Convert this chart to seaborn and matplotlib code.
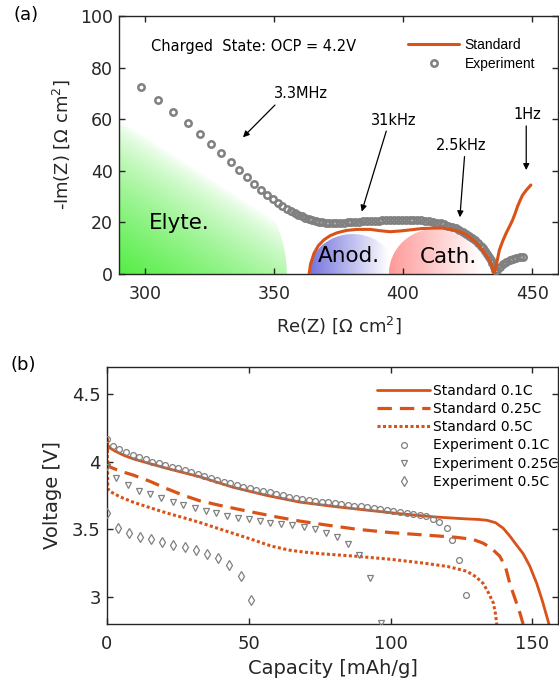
import numpy as np
import matplotlib
matplotlib.use("Agg")
import matplotlib.pyplot as plt
from matplotlib.patches import Ellipse
from matplotlib.lines import Line2D
from matplotlib.ticker import FuncFormatter
import seaborn as sns

# ---------------- (a) impedance spectrum, charged state ----------------
eis_exp_re = [298.5, 305.0, 311.0, 316.8, 321.3, 325.5, 329.5, 333.2, 336.4, 339.5,
              342.3, 345.0, 347.3, 349.5, 351.5, 353.3, 355.0, 356.6, 358.1, 359.5,
              360.9, 362.2, 363.5, 364.8, 366.1, 367.4, 368.7, 370.0, 371.4, 372.8,
              374.2, 375.6, 377.0, 378.5, 380.0, 381.5, 383.0, 384.5, 386.0, 387.5,
              389.0, 390.5, 392.0, 393.5, 395.0, 396.5, 398.0, 399.5, 401.0, 402.5,
              404.0, 405.5, 407.0, 408.5, 410.0, 411.5, 413.0, 414.5, 416.0, 417.5,
              419.0, 420.4, 421.8, 423.1, 424.4, 425.6, 426.8, 427.9, 429.0, 430.0,
              430.9, 431.8, 432.6, 433.3, 434.0, 434.6, 435.1, 435.6, 436.5, 437.6,
              438.8, 440.0, 441.3, 442.6, 443.9, 445.1, 446.3]
eis_exp_im = [72.5, 67.3, 62.9, 58.6, 54.3, 50.3, 46.8, 43.4, 40.3, 37.7,
              34.9, 32.6, 30.7, 29.0, 27.4, 26.2, 25.2, 24.3, 23.6, 23.0,
              22.4, 21.9, 21.4, 21.0, 20.6, 20.3, 20.0, 19.8, 19.6, 19.6,
              19.7, 19.8, 19.9, 20.0, 20.1, 20.2, 20.3, 20.4, 20.5, 20.5,
              20.6, 20.7, 20.8, 20.8, 20.9, 20.9, 21.0, 21.0, 21.0, 21.0,
              21.0, 20.9, 20.8, 20.6, 20.4, 20.2, 19.9, 19.6, 19.2, 18.8,
              18.3, 17.7, 17.1, 16.4, 15.6, 14.8, 13.9, 13.0, 12.0, 11.0,
              9.9, 8.8, 7.7, 6.5, 5.3, 4.1, 2.9, 1.6, 1.5, 2.8,
              3.8, 4.6, 5.3, 5.8, 6.2, 6.5, 6.7]

eis_std_re = [363.6, 364.2, 365.5, 367.2, 369.3, 371.8, 374.5, 378.0, 382.2, 387.3,
              391.0, 395.0, 399.0, 402.7, 407.0, 411.7, 415.0, 418.0, 421.5, 424.5,
              427.2, 429.6, 431.7, 433.5, 434.4, 435.0, 435.3, 436.2, 437.3, 438.6,
              439.9, 441.2, 442.4, 443.4, 444.3, 445.3, 446.3, 447.8, 449.5]
eis_std_im = [0.0, 4.0, 8.0, 11.0, 13.2, 14.9, 16.0, 16.9, 17.3, 17.3,
              16.8, 16.4, 16.7, 17.1, 17.6, 17.8, 17.8, 17.4, 16.6, 15.2,
              13.2, 10.8, 8.0, 5.2, 3.0, 0.8, 0.0, 4.0, 9.3, 12.8,
              15.8, 18.4, 20.9, 23.5, 26.1, 28.5, 30.6, 32.6, 34.5]

# frequency markers: (label, text position, arrow tail, arrow head)
freq_labels = ["3.3MHz", "31kHz", "2.5kHz", "1Hz"]
freq_text_xy = [(360.5, 70.0), (396.3, 59.7), (422.6, 49.7), (448.3, 62.0)]
freq_tail_xy = [(350.4, 65.5), (393.5, 55.4), (423.8, 45.5), (447.7, 57.4)]
freq_head_xy = [(338.0, 53.0), (384.0, 24.2), (422.0, 22.0), (447.7, 40.3)]

# ---------------- (b) discharge curves ----------------
cap_std_01 = [0.0, 0.3, 1.0, 3.0, 6.0, 9.2, 15.0, 21.0, 32.7, 44.4, 56.2, 68.0, 80.0,
              92.0, 104.0, 116.0, 126.0, 131.0, 134.0, 137.0, 139.7, 142.0, 144.5,
              146.7, 149.0, 151.5, 153.5, 155.0, 155.8]
v_std_01 = [4.17, 4.12, 4.10, 4.075, 4.045, 4.02, 3.985, 3.95, 3.887, 3.81, 3.75, 3.70,
            3.668, 3.64, 3.613, 3.59, 3.577, 3.572, 3.566, 3.548, 3.507, 3.45, 3.38,
            3.32, 3.23, 3.10, 2.97, 2.86, 2.80]

cap_std_025 = [0.0, 0.2, 1.0, 4.5, 9.2, 15.0, 21.0, 27.0, 32.7, 40.0, 50.3, 60.0, 68.0,
               76.0, 88.0, 100.0, 111.5, 123.2, 129.0, 132.6, 135.5, 138.5, 140.5,
               142.0, 143.8, 145.6, 146.7]
v_std_025 = [4.17, 4.00, 3.96, 3.93, 3.90, 3.855, 3.80, 3.75, 3.71, 3.675, 3.63, 3.59,
             3.56, 3.535, 3.50, 3.475, 3.458, 3.44, 3.425, 3.397, 3.36, 3.30, 3.22,
             3.10, 2.99, 2.88, 2.80]

cap_std_05 = [0.0, 0.3, 1.0, 4.5, 9.2, 15.0, 21.0, 27.0, 32.7, 40.0, 50.3, 58.0, 64.4,
              70.0, 76.0, 88.0, 100.0, 111.5, 120.0, 126.8, 130.0, 132.6, 134.5,
              136.2, 137.0, 137.4]
v_std_05 = [4.17, 3.80, 3.78, 3.74, 3.70, 3.66, 3.62, 3.585, 3.55, 3.50, 3.43, 3.375,
            3.345, 3.33, 3.318, 3.30, 3.278, 3.25, 3.225, 3.19, 3.15, 3.10, 3.03,
            2.956, 2.87, 2.80]

cap_exp_01 = [0.0, 2.1, 4.4, 6.7, 9.0, 11.3, 13.6, 15.9, 18.2, 20.5, 22.8, 25.1, 27.4,
              29.7, 32.0, 34.3, 36.6, 38.9, 41.2, 43.5, 45.8, 48.1, 50.4, 52.7, 55.0,
              57.3, 59.6, 61.9, 64.2, 66.5, 68.8, 71.1, 73.4, 75.7, 78.0, 80.3, 82.6,
              84.9, 87.2, 89.5, 91.8, 94.1, 96.4, 98.7, 101.0, 103.3, 105.6, 107.9,
              110.2, 112.5, 114.8, 117.2, 119.7, 121.8, 124.2, 126.5]
v_exp_01 = [4.164, 4.115, 4.090, 4.068, 4.048, 4.031, 4.015, 4.000, 3.986, 3.974, 3.962,
            3.950, 3.937, 3.922, 3.906, 3.892, 3.878, 3.865, 3.851, 3.838, 3.825, 3.813,
            3.802, 3.792, 3.782, 3.772, 3.762, 3.752, 3.740, 3.730, 3.722, 3.716, 3.710,
            3.704, 3.698, 3.692, 3.687, 3.681, 3.675, 3.669, 3.664, 3.658, 3.652, 3.645,
            3.638, 3.630, 3.623, 3.616, 3.606, 3.594, 3.578, 3.553, 3.506, 3.420, 3.274,
            3.017]

cap_exp_025 = [0.0, 3.3, 7.4, 11.3, 15.1, 19.2, 23.1, 26.8, 30.9, 34.8, 38.6, 42.3, 46.2,
               50.1, 53.9, 57.6, 61.5, 65.4, 69.4, 73.3, 77.1, 81.1, 85.0, 88.9, 92.7,
               96.5]
v_exp_025 = [3.96, 3.875, 3.826, 3.784, 3.757, 3.733, 3.703, 3.679, 3.654, 3.635, 3.618,
             3.600, 3.585, 3.573, 3.561, 3.549, 3.539, 3.532, 3.515, 3.500, 3.470, 3.440,
             3.392, 3.306, 3.140, 2.810]

cap_exp_05 = [0.0, 3.9, 7.8, 11.5, 15.4, 19.4, 23.3, 27.4, 31.3, 35.1, 39.2, 43.0, 47.1,
              50.9]
v_exp_05 = [3.618, 3.507, 3.470, 3.446, 3.426, 3.404, 3.385, 3.365, 3.348, 3.318, 3.287,
            3.237, 3.152, 2.980]

std_labels = ["Standard 0.1C", "Standard 0.25C", "Standard 0.5C"]
exp_labels = ["Experiment 0.1C", "Experiment 0.25C", "Experiment 0.5C"]

ORANGE = "#D95319"
GRAY = "#808080"
INK = "#262626"

sns.set_theme(style="ticks")
plt.rcParams.update({
    "font.family": ["DejaVu Sans"],
    "axes.edgecolor": INK,
    "axes.linewidth": 1.0,
    "xtick.color": INK,
    "ytick.color": INK,
    "xtick.labelcolor": INK,
    "ytick.labelcolor": INK,
    "axes.labelcolor": INK,
    "text.color": "black",
})

fig = plt.figure(figsize=(5.59, 6.88), dpi=100)
ax1 = fig.add_axes([0.2129, 0.6017, 0.7853, 0.3750])
ax2 = fig.add_axes([0.1914, 0.0930, 0.8068, 0.3740])


def shaded_region(ax, center, width, height, rgb, alpha_fn):
    """Ellipse filled with a colour that fades to transparent."""
    cx, cy = center
    x0, x1 = cx - width / 2, cx + width / 2
    y0, y1 = cy - height / 2, cy + height / 2
    X, Y = np.meshgrid(np.linspace(x0, x1, 400), np.linspace(y0, y1, 400))
    img = np.zeros(X.shape + (4,))
    img[..., :3] = rgb
    img[..., 3] = np.clip(alpha_fn(X, Y), 0, 1)
    patch = Ellipse(center, width, height, facecolor="none", edgecolor="none",
                    transform=ax.transData)
    ax.add_patch(patch)
    im = ax.imshow(img, extent=(x0, x1, y0, y1), origin="lower", aspect="auto",
                   interpolation="bilinear", zorder=0.5)
    im.set_clip_path(patch)


# electrolyte, anode and cathode contributions
shaded_region(ax1, (275, 0), 160, 124, (0.33, 0.93, 0.27),
              lambda X, Y: np.clip(1 - (0.7 * (X - 290) / 65 + Y / 60), 0, 1) ** 0.7)
shaded_region(ax1, (380.5, 0), 34, 31, (0.42, 0.42, 0.86),
              lambda X, Y: 0.95 * np.clip(1 - (X - 363.5) / 31, 0, 1))
shaded_region(ax1, (412.5, 0), 36, 35, (1.0, 0.5, 0.5),
              lambda X, Y: 0.8 * np.clip(1 - (X - 394.5) / 36, 0, 1))

sns.lineplot(x=eis_exp_re, y=eis_exp_im, ax=ax1, sort=False, estimator=None,
             linestyle="", marker="o", markersize=4.6, markeredgewidth=1.8,
             markerfacecolor="none", markeredgecolor=GRAY, zorder=3)
sns.lineplot(x=eis_std_re, y=eis_std_im, ax=ax1, sort=False, estimator=None,
             color=ORANGE, linewidth=2.2, zorder=4)

ax1.text(313.2, 19.9, "Elyte.", fontsize=15.5, ha="center", va="center", zorder=5)
ax1.text(379.2, 7.0, "Anod.", fontsize=15.5, ha="center", va="center", zorder=5)
ax1.text(417.4, 6.7, "Cath.", fontsize=15.5, ha="center", va="center", zorder=5)
ax1.text(302.3, 88.1, "Charged  State: OCP = 4.2V", fontsize=10.5, ha="left", va="center")

for lab, txy, tail, head in zip(freq_labels, freq_text_xy, freq_tail_xy, freq_head_xy):
    ax1.text(txy[0], txy[1], lab, fontsize=10.5, ha="center", va="center")
    ax1.annotate("", xy=head, xytext=tail,
                 arrowprops=dict(arrowstyle="-|>", color="black", lw=0.9,
                                 mutation_scale=9, shrinkA=0, shrinkB=0))

ax1.set_xlim(290, 460)
ax1.set_ylim(0, 100)
ax1.set_xticks([300, 350, 400, 450])
ax1.set_yticks([0, 20, 40, 60, 80, 100])
ax1.set_xlabel("Re(Z) [Ω cm$^{2}$]", fontsize=13)
ax1.set_ylabel("-Im(Z) [Ω cm$^{2}$]", fontsize=13)

h_top = [Line2D([], [], color=ORANGE, lw=2.2),
         Line2D([], [], ls="", marker="o", ms=4.6, mew=1.8, mfc="none", mec=GRAY)]
ax1.legend(h_top, ["Standard", "Experiment"], loc="upper left",
           bbox_to_anchor=(0.658, 0.916), frameon=False, borderpad=0,
           borderaxespad=0, handlelength=3.7, handletextpad=0.4, labelspacing=0.35,
           prop={"family": "Liberation Sans", "size": 10})

# ---- panel (b)
std_styles = ["-", (0, (4.5, 2.5)), (0, (1.0, 0.8))]
std_widths = [2.0, 2.3, 2.2]
for cap, v, ls, lw in zip([cap_std_01, cap_std_025, cap_std_05],
                          [v_std_01, v_std_025, v_std_05], std_styles, std_widths):
    sns.lineplot(x=cap, y=v, ax=ax2, sort=False, estimator=None, color=ORANGE,
                 linewidth=lw, zorder=2)
    ax2.lines[-1].set_linestyle(ls)

exp_markers = ["o", "v", "d"]
exp_sizes = [4.2, 4.7, 5.4]
for cap, v, mk, ms in zip([cap_exp_01, cap_exp_025, cap_exp_05],
                          [v_exp_01, v_exp_025, v_exp_05], exp_markers, exp_sizes):
    sns.lineplot(x=cap, y=v, ax=ax2, sort=False, estimator=None, linestyle="",
                 marker=mk, markersize=ms, markeredgewidth=0.9,
                 markerfacecolor="none", markeredgecolor=GRAY, zorder=3)

ax2.set_xlim(0, 159)
ax2.set_ylim(2.8, 4.7)
ax2.set_xticks([0, 50, 100, 150])
ax2.set_yticks([3, 3.5, 4, 4.5])
ax2.yaxis.set_major_formatter(FuncFormatter(lambda v, p: f"{v:g}"))
ax2.set_xlabel("Capacity [mAh/g]", fontsize=14)
ax2.set_ylabel("Voltage [V]", fontsize=14)

h_bot = [Line2D([], [], color=ORANGE, lw=w, ls=s) for s, w in zip(std_styles, std_widths)]
h_bot += [Line2D([], [], ls="", marker=m, ms=s, mew=0.9, mfc="none", mec=GRAY)
          for m, s in zip(exp_markers, exp_sizes)]
ax2.legend(h_bot, std_labels + exp_labels, loc="upper left",
           bbox_to_anchor=(0.599, 0.933), frameon=False, borderpad=0,
           borderaxespad=0, handlelength=3.8, handletextpad=0.25, labelspacing=0.3,
           fontsize=10)

for ax in (ax1, ax2):
    ax.tick_params(direction="in", length=4, width=1.0, top=True, right=True,
                   labelsize=12.5, pad=8)
    ax.tick_params(axis="y", pad=4.5)
    for sp in ax.spines.values():
        sp.set_visible(True)
        sp.set_color(INK)
ax2.tick_params(labelsize=13)

ax1.yaxis.set_label_coords(-0.107, 0.5)
ax1.xaxis.set_label_coords(0.5, -0.155)
ax2.yaxis.set_label_coords(-0.10, 0.5)
ax2.xaxis.set_label_coords(0.5, -0.135)

fig.text(26 / 559, 1 - 15 / 688, "(a)", fontsize=13, ha="center", va="center")
fig.text(23 / 559, 1 - 365 / 688, "(b)", fontsize=13, ha="center", va="center")

fig.savefig("out.png", dpi=100)
